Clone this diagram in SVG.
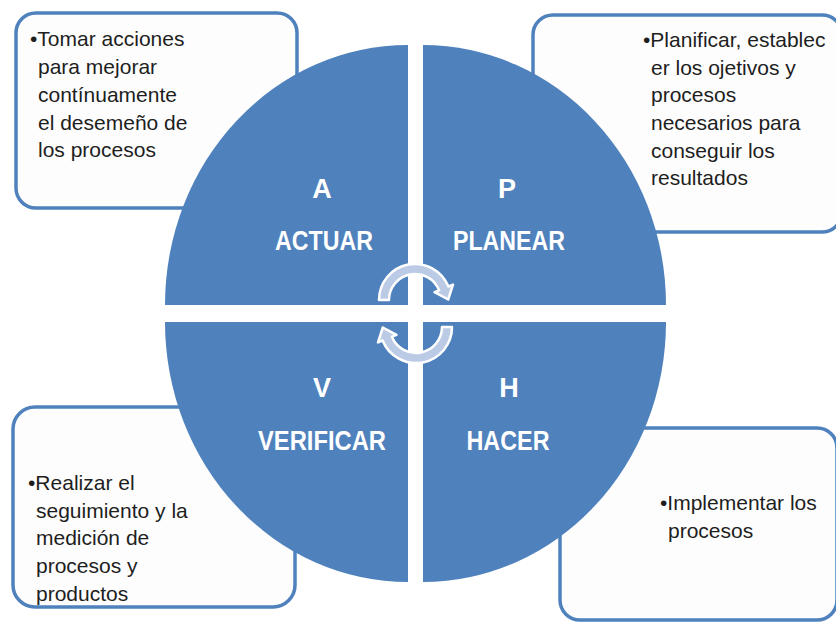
<svg xmlns="http://www.w3.org/2000/svg" width="836" height="622" viewBox="0 0 836 622">
<style>
.box{fill:#fdfdfd;stroke:#4f81bd;stroke-width:3.5}
.q{fill:#4f81bd}
.t{font-family:"Liberation Sans",Arial,sans-serif;font-size:21px;fill:#1e1e1e}
.lbl{font-family:"Liberation Sans",Arial,sans-serif;font-size:27px;font-weight:bold;fill:#ffffff;text-anchor:middle}
.arr{fill:#bccbe5;stroke:#ffffff;stroke-width:2.5;stroke-linejoin:round}
</style>
<rect width="836" height="622" fill="#ffffff"/>
<g id="box-actuar">
<rect class="box" x="16" y="13" width="281" height="195" rx="20"/>
<text class="t" x="30" y="46">•Tomar acciones</text>
<text class="t" x="38" y="74">para mejorar</text>
<text class="t" x="38" y="102">contínuamente</text>
<text class="t" x="38" y="130">el desemeño de</text>
<text class="t" x="38" y="157">los procesos</text>
</g>
<g id="box-planear">
<rect class="box" x="533" y="15" width="309" height="217" rx="20"/>
<text class="t" x="643" y="47">•Planificar, establec</text>
<text class="t" x="651" y="75">er los ojetivos y</text>
<text class="t" x="651" y="102">procesos</text>
<text class="t" x="651" y="130">necesarios para</text>
<text class="t" x="651" y="158">conseguir los</text>
<text class="t" x="651" y="185">resultados</text>
</g>
<g id="box-verificar">
<rect class="box" x="13" y="407" width="282" height="200" rx="22"/>
<text class="t" x="28" y="490">•Realizar el</text>
<text class="t" x="36" y="518">seguimiento y la</text>
<text class="t" x="36" y="545">medición de</text>
<text class="t" x="36" y="573">procesos y</text>
<text class="t" x="36" y="601">productos</text>
</g>
<g id="box-hacer">
<rect class="box" x="560" y="428" width="277" height="192" rx="20"/>
<text class="t" x="660" y="510">•Implementar los</text>
<text class="t" x="668" y="538">procesos</text>
</g>
<g id="q-actuar">
<path class="q" d="M408,305 L165,305 A243,260 0 0 1 408,45 Z"/>
<text class="lbl" x="322" y="198">A</text>
<text class="lbl" x="324" y="250" textLength="98" lengthAdjust="spacingAndGlyphs">ACTUAR</text>
</g>
<g id="q-planear">
<path class="q" d="M423,305 L423,45 A243,260 0 0 1 666,305 Z"/>
<text class="lbl" x="507" y="198">P</text>
<text class="lbl" x="509" y="250" textLength="112" lengthAdjust="spacingAndGlyphs">PLANEAR</text>
</g>
<g id="q-verificar">
<path class="q" d="M408,322 L408,582 A243,260 0 0 1 165,322 Z"/>
<text class="lbl" x="322" y="397">V</text>
<text class="lbl" x="322" y="450" textLength="128" lengthAdjust="spacingAndGlyphs">VERIFICAR</text>
</g>
<g id="q-hacer">
<path class="q" d="M423,322 L666,322 A243,260 0 0 1 423,582 Z"/>
<text class="lbl" x="509" y="397">H</text>
<text class="lbl" x="508" y="450" textLength="83" lengthAdjust="spacingAndGlyphs">HACER</text>
</g>
<g id="connectors">
<path class="arr" d="M379,300 A36,36 0 0 1 448.4,286.5 L453,284.6 L448.2,299.5 L434.5,292.1 L439.1,290.3 A26,26 0 0 0 389,300 Z"/>
<path class="arr" transform="rotate(180 415.5 313.5)" d="M379,300 A36,36 0 0 1 448.4,286.5 L453,284.6 L448.2,299.5 L434.5,292.1 L439.1,290.3 A26,26 0 0 0 389,300 Z"/>
</g>
</svg>
